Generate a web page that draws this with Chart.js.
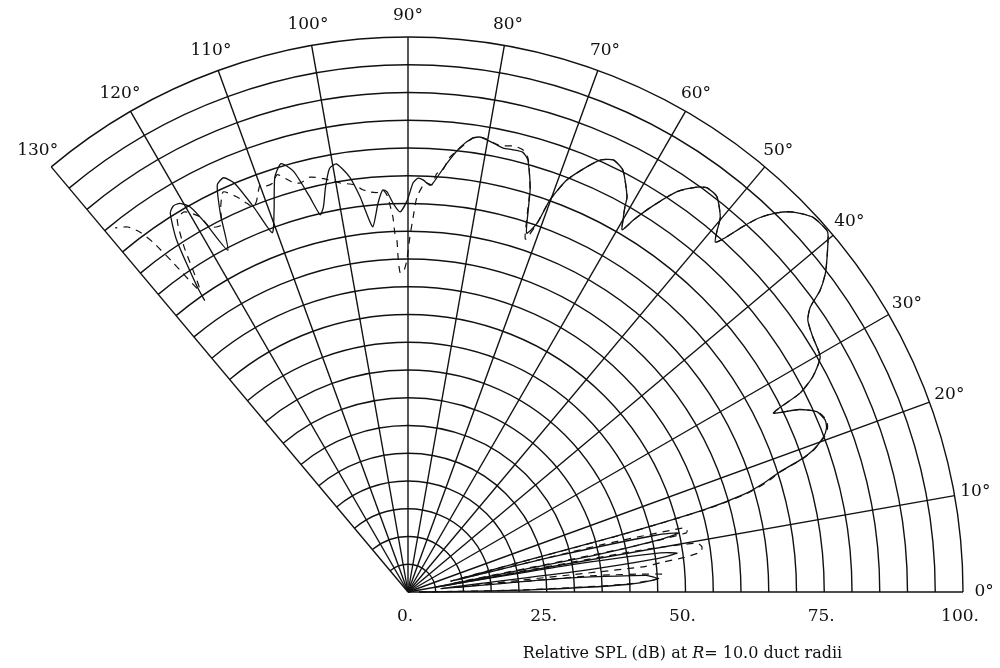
<!DOCTYPE html>
<html><head><meta charset="utf-8">
<script src="https://cdn.jsdelivr.net/npm/chart.js@4"></script>
<style>html,body{margin:0;padding:0;background:#fff}#wrap{width:1000px;height:668px;position:relative}</style>
</head><body><div id="wrap"><canvas id="c"></canvas></div>
<script>
// ---- data ----
const angleTicks = [0,10,20,30,40,50,60,70,80,90,100,110,120,130];
const angleTickLabels = ['0°','10°','20°','30°','40°','50°','60°','70°','80°','90°','100°','110°','120°','130°'];
const ringValues = [5,10,15,20,25,30,35,40,45,50,55,60,65,70,75,80,85,90,95,100];
const radialTicks = [0,25,50,75,100];
const radialTickLabels = ['0.','25.','50.','75.','100.'];
const titleParts = ['Relative SPL (dB) at ', 'R', '= 10.0 duct radii'];

// solid curve: angle (deg), relative SPL (dB)
const solidAngles = [0,1,2,3,4,5,6,7,7.6,8.2,8.8,9.5,10.3,11.1,11.7,12.3,12.9,13.6,14.3,15,15.5,16.2,17,17.9,18.6,19.3,20.4,21.4,22.4,23.8,25,26.1,26.9,28,29.7,32.2,34.2,35.3,36.2,37.3,38.4,40.2,40.8,42.8,44.6,45.8,46.8,47.5,48.2,48.7,49.4,50.2,52,53.5,54.5,56.1,57.8,58.8,59.4,60,60.6,61,63,64.6,66,67.2,68.9,70.1,70.7,71.7,72.5,73.2,74.5,75.4,76.6,77.9,78.7,80.1,81,81.9,83.3,84.8,86.5,86.9,87.9,88.6,89.3,90.1,91.2,92.2,93,93.6,94.4,95.5,96.4,96.9,98,99.5,100.5,101.5,102.4,103.1,104,105.2,106.5,107.8,109.3,110.7,111.8,113,114,115.1,116.4,117.8,118.8,119.5,120.4,121.3,122.1,123.3,124.6,124.9];
const solidLevels = [2,22,40,45,43,28,6,32,45,49,46,28,5,34,46,50,46,28,8,38,55,63,67,70.4,74.5,77.3,79.8,81,81.3,80.5,77.8,73.3,79.2,82.6,85.5,86.2,87.1,88.8,92,94.5,96.3,99.1,99.7,99.4,97.5,95.3,92.5,89.3,85.5,83.9,85.5,87.9,90.4,90.6,89.6,86.9,81.8,78.3,75.8,77.5,79.6,81.4,85.3,86.2,85.2,83.1,79.6,75.1,70.4,68.1,72,76.2,80.8,81.9,81.9,81.8,82.1,82.7,83,82.6,80.7,77.6,73.8,73.4,74.3,74.6,73.7,70.6,68.5,70.1,72.2,72.6,70.3,66.1,69.3,71.7,75.5,78.2,77.6,74.5,71,69.8,73.5,78.5,80.5,78.5,73,69.2,74.5,80,81.7,81,76,69.6,76,79.7,81.2,81.4,80.6,76,67,64];

// dashed curve: angle (deg), relative SPL (dB)
const dashedAngles = [0,1,2,3,4,5,5.7,6.1,6.7,7.1,7.8,8.7,9.6,10.2,10.8,11.4,12,12.6,13.1,13.7,14.3,15,15.5,16.2,17,17.9,18.6,19.3,20.4,21.4,22.4,23.8,25,26.1,26.9,28,29.7,32.2,34.2,35.3,36.2,37.3,38.4,40.2,40.8,42.8,44.6,45.8,46.8,47.5,48.2,48.7,49.4,50.2,52,53.5,54.5,56.1,57.8,58.8,59.4,60,60.6,61,63,64.6,66,67.2,68.9,70.1,70.7,71.6,72.5,73.2,74.5,75.4,76.6,77.9,78.7,80.1,81,81.9,83.3,84.5,85.3,86.1,86.6,87.6,88.7,89.2,89.7,90.2,90.7,91.4,91.7,91.8,92.1,92.3,93,93.6,94.4,95.4,96.5,97.5,99.4,101.5,103.3,104.8,105.8,107.4,108.3,109.2,110,111.2,111.9,112.5,113.5,114.8,116,117,118.5,119,120.5,121.8,123,124.6,125.5,126.1,126.7,127.5,128.8];
const dashedLevels = [2,20,39,45,46,34,10,42.6,46.3,50,53.2,53.6,52.8,42,8,40,51.3,51.5,50.9,36,8,40,56,63.5,67.5,70.6,74.8,77.5,80,81.2,81.5,80.6,77.8,73.5,79.2,82.6,85.5,86.2,87.1,88.8,92,94.5,96.3,99.1,99.7,99.4,97.5,95.3,92.5,89.3,85.5,83.9,85.5,87.9,90.4,90.6,89.6,86.9,81.8,78.3,75.8,77.5,79.6,81.4,85.3,86.2,85.2,83.1,79.6,75.1,70.4,67,71.5,76,81,82.3,82.6,82.2,82.2,82.8,83,82.6,80.5,78.7,76.3,75.5,73.5,73.8,71.2,67.6,64,59.8,58,57.5,60.4,63.4,64.7,67.6,71.5,72.6,72.2,72.4,73,74,74.7,76,76.8,76.2,76.8,78.8,77.6,77.5,78,75.5,74.8,75.8,77.7,79.4,77,74.2,74.8,77.3,79.5,78.9,74,66.1,72.9,78,80.9,82.9,84.2];

// ---- layout constants ----
const CX = 408, CY = 592, PX = 5.55, W = 1000, H = 668;
const RMAX = 100, ARC_END = 130, LABEL_R = 103.8;
const FONT = '"DejaVu Serif", "Liberation Serif", serif';

function toXY(angles, levels) {
  return angles.map((a, i) => {
    const t = a * Math.PI / 180;
    return { x: levels[i] * Math.cos(t), y: levels[i] * Math.sin(t) };
  });
}

const polarGrid = {
  id: 'polarGrid',
  beforeDatasetsDraw(chart) {
    const ctx = chart.ctx, xs = chart.scales.x, ys = chart.scales.y;
    const cx = xs.getPixelForValue(0), cy = ys.getPixelForValue(0);
    const k = xs.getPixelForValue(1) - cx;
    ctx.save();
    ctx.strokeStyle = '#111';
    ctx.lineWidth = 1.4;
    ringValues.forEach(r => {
      ctx.beginPath();
      ctx.arc(cx, cy, r * k, 0, -ARC_END * Math.PI / 180, true);
      ctx.stroke();
    });
    angleTicks.forEach(a => {
      const t = a * Math.PI / 180;
      ctx.beginPath();
      ctx.moveTo(cx, cy);
      ctx.lineTo(cx + RMAX * k * Math.cos(t), cy - RMAX * k * Math.sin(t));
      ctx.stroke();
    });
    ctx.restore();
  },
  afterDatasetsDraw(chart) {
    const ctx = chart.ctx, xs = chart.scales.x, ys = chart.scales.y;
    const cx = xs.getPixelForValue(0), cy = ys.getPixelForValue(0);
    const k = xs.getPixelForValue(1) - cx;
    ctx.save();
    ctx.fillStyle = '#111';
    ctx.font = '17px ' + FONT;
    ctx.textAlign = 'center';
    ctx.textBaseline = 'middle';
    angleTicks.forEach((a, i) => {
      const t = a * Math.PI / 180;
      ctx.fillText(angleTickLabels[i], cx + LABEL_R * k * Math.cos(t), cy - LABEL_R * k * Math.sin(t));
    });
    ctx.textBaseline = 'alphabetic';
    radialTicks.forEach((v, i) => {
      ctx.fillText(radialTickLabels[i], xs.getPixelForValue(v) - 3, cy + 29);
    });
    // axis title with italic R
    ctx.font = '16px ' + FONT;
    const w0 = ctx.measureText(titleParts[0]).width;
    const w2 = ctx.measureText(titleParts[2]).width;
    ctx.font = 'italic 16px ' + FONT;
    const w1 = ctx.measureText(titleParts[1]).width;
    const total = w0 + w1 + w2;
    let x = xs.getPixelForValue(50) - 3 - total / 2;
    const y = cy + 66;
    ctx.textAlign = 'left';
    ctx.font = '16px ' + FONT;
    ctx.fillText(titleParts[0], x, y); x += w0;
    ctx.font = 'italic 16px ' + FONT;
    ctx.fillText(titleParts[1], x, y); x += w1;
    ctx.font = '16px ' + FONT;
    ctx.fillText(titleParts[2], x, y);
    ctx.restore();
  }
};

new Chart(document.getElementById('c'), {
  type: 'scatter',
  data: {
    datasets: [
      { label: 'solid', data: toXY(solidAngles, solidLevels), showLine: true, borderColor: '#111', borderWidth: 1.3, pointRadius: 0, tension: 0.2, clip: false },
      { label: 'dashed', data: toXY(dashedAngles, dashedLevels), showLine: true, borderColor: '#111', borderWidth: 1.2, borderDash: [7, 6], pointRadius: 0, tension: 0.2, clip: false }
    ]
  },
  options: {
    responsive: true,
    maintainAspectRatio: false,
    animation: false,
    layout: { padding: 0 },
    plugins: { legend: { display: false }, tooltip: { enabled: false } },
    scales: {
      x: { type: 'linear', display: false, min: -CX / PX, max: (W - CX) / PX },
      y: { type: 'linear', display: false, min: -(H - CY) / PX, max: CY / PX }
    }
  },
  plugins: [polarGrid]
});
</script>
</body></html>
